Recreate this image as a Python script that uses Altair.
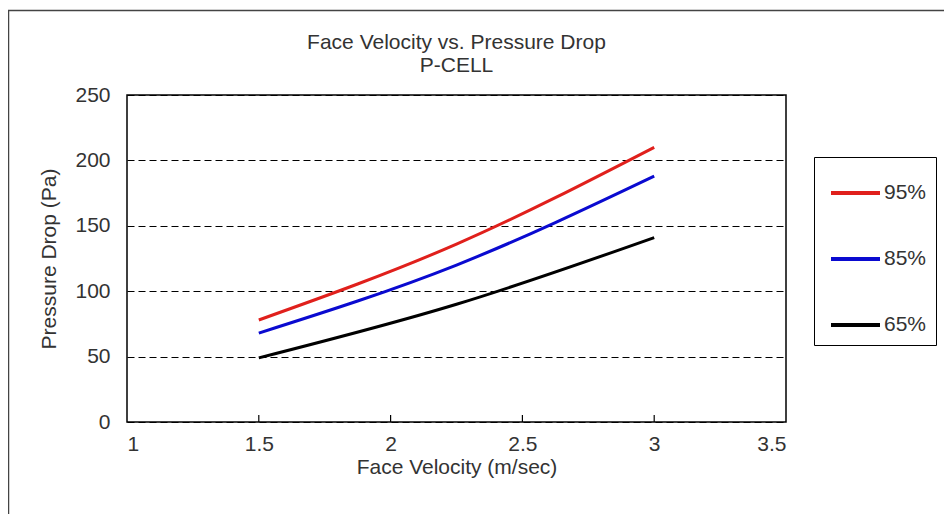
import altair as alt
import pandas as pd

velocity = [1.5, 2.25, 3.0]
p95 = [78, 136, 210]
p85 = [68, 120, 188]
p65 = [49, 90, 141]
series_names = ["95%", "85%", "65%"]
series_colors = ["#e0201c", "#0a0ad0", "#000000"]
x_ticks = [1, 1.5, 2, 2.5, 3, 3.5]
y_ticks = [0, 50, 100, 150, 200, 250]
inner_ticks = [1.5, 2, 2.5, 3]
title_lines = ["Face Velocity vs. Pressure Drop", "P-CELL"]

rows = []
for name, vals in zip(series_names, [p95, p85, p65]):
    for v, p in zip(velocity, vals):
        rows.append({"v": v, "p": p, "s": name})
df = pd.DataFrame(rows)

FONT = "Liberation Sans"
FS = 21
W, H = 659, 327

x_scale = alt.Scale(domain=[1, 3.5], nice=False)
y_scale = alt.Scale(domain=[0, 250], nice=False)

one = pd.DataFrame({"a": [0]})

frame = alt.Chart(one).mark_rect(
    filled=False, stroke="#444444", strokeWidth=1.5
).encode(
    x=alt.value(-118.5), x2=alt.value(3000), y=alt.value(-84.5), y2=alt.value(3000)
)

title1 = alt.Chart(one).mark_text(
    text=title_lines[0], font=FONT, fontSize=FS, color="#333333",
    align="center", baseline="alphabetic"
).encode(x=alt.value(W / 2), y=alt.value(-46))

title2 = alt.Chart(one).mark_text(
    text=title_lines[1], font=FONT, fontSize=FS, color="#333333",
    align="center", baseline="alphabetic"
).encode(x=alt.value(W / 2), y=alt.value(-23))

lines = alt.Chart(df).mark_line(strokeWidth=3, interpolate="monotone").encode(
    x=alt.X("v:Q", scale=x_scale,
            axis=alt.Axis(values=x_ticks, format="~g", title="Face Velocity (m/sec)",
                          ticks=False, domain=False, grid=False,
                          labelPadding=11, titlePadding=2)),
    y=alt.Y("p:Q", scale=y_scale,
            axis=alt.Axis(values=y_ticks, title="Pressure Drop (Pa)",
                          ticks=False, domain=False, grid=True,
                          gridColor="black", gridDash=[7, 4], gridWidth=1.2,
                          labelPadding=17, titlePadding=15)),
    color=alt.Color("s:N", sort=series_names,
                    scale=alt.Scale(domain=series_names, range=series_colors),
                    legend=alt.Legend(title=None, orient="none", legendX=687, legendY=62,
                                      symbolType="stroke", symbolSize=2401,
                                      symbolStrokeWidth=4, symbolOffset=5.5,
                                      labelOffset=2, labelFontSize=FS, labelFont=FONT,
                                      labelColor="#333333",
                                      rowPadding=29, padding=9.5,
                                      strokeColor="black")),
)

tick_df = pd.DataFrame({"t": inner_ticks})
ticks = alt.Chart(tick_df).mark_rule(color="black", strokeWidth=1.2).encode(
    x=alt.X("t:Q", scale=x_scale),
    y=alt.value(H),
    y2=alt.value(H - 7),
)

chart = alt.layer(frame, title1, title2, lines, ticks).properties(
    width=W, height=H,
    autosize=alt.AutoSizeParams(type="none"),
    padding={"left": 119, "top": 87, "right": 158, "bottom": 92},
).configure_view(
    stroke="black", strokeWidth=1.5
).configure_axis(
    labelFont=FONT, titleFont=FONT, labelFontSize=FS, titleFontSize=FS,
    labelColor="#333333", titleColor="#333333", titleFontWeight="normal"
)

chart.save("out.html", embed_options={"renderer": "svg", "actions": False})
